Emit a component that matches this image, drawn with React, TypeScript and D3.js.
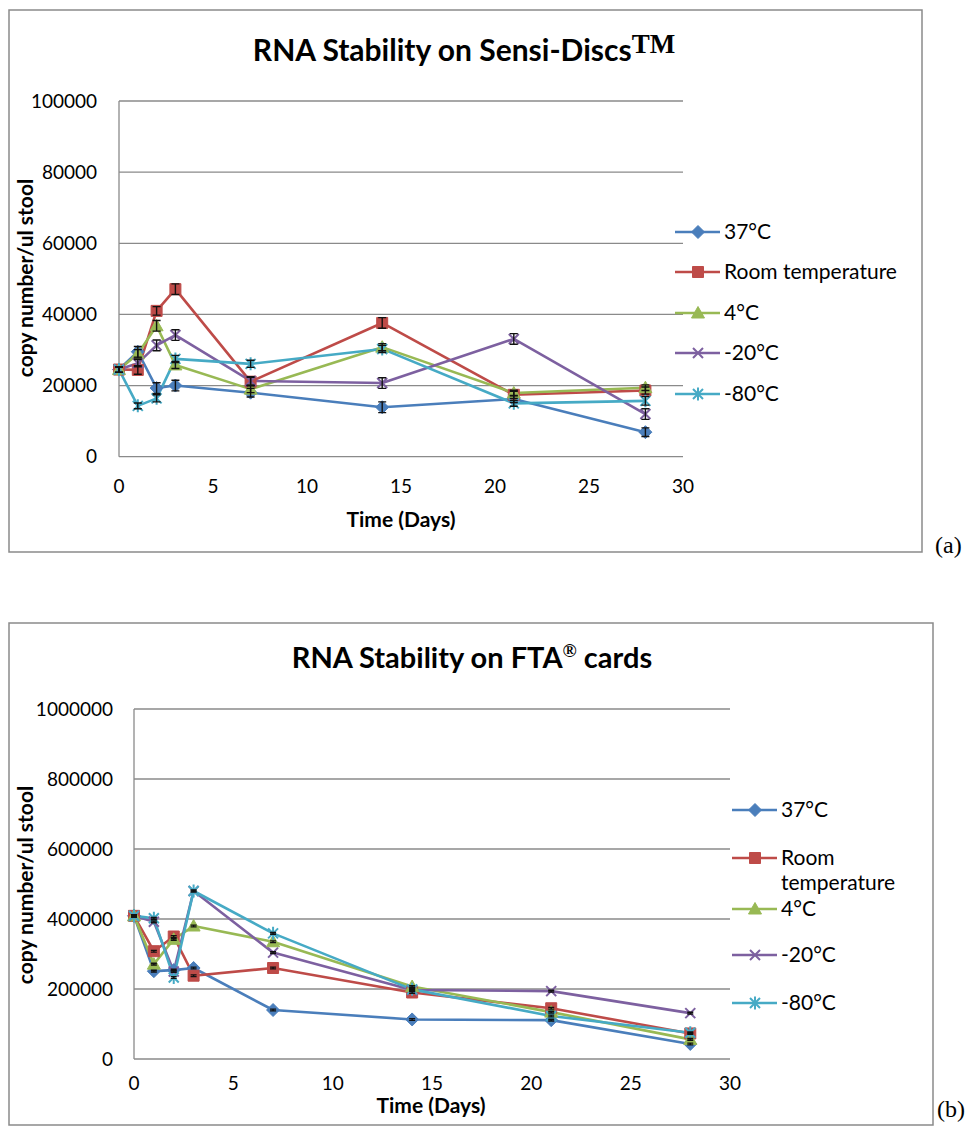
import React from 'react';
import * as d3 from 'd3';

// time points (days)
const days = [0, 1, 2, 3, 7, 14, 21, 28];
const seriesNames = ['37°C', 'Room temperature', '4°C', '-20°C', '-80°C'];
const seriesColors = ['#4a7ebb', '#be4b48', '#98b954', '#7d60a0', '#46aac5'];
const markerKinds = ['diamond', 'square', 'triangle', 'x', 'star'];

// Sensi-Discs (a)
const discs37 = [24500, 29500, 19300, 20000, 18000, 13900, 16200, 6900];
const discsRoom = [24500, 24400, 41000, 47100, 21100, 37600, 17400, 18600];
const discs4 = [24500, 28900, 36800, 25800, 19000, 30800, 17900, 19400];
const discsM20 = [24500, 26300, 31300, 34200, 21300, 20700, 33100, 12000];
const discsM80 = [24500, 14300, 16400, 27500, 26100, 30300, 15000, 15700];
const discsErr37 = [800, 1500, 1500, 1500, 1200, 1500, 1000, 1200];
const discsErrRoom = [800, 1200, 1200, 1500, 1200, 1500, 1000, 1000];
const discsErr4 = [800, 1200, 1500, 1000, 1000, 1000, 800, 800];
const discsErrM20 = [800, 1000, 1500, 1500, 1200, 1500, 1500, 1500];
const discsErrM80 = [800, 800, 1000, 1000, 1000, 1000, 800, 1200];
const discsTicksY = [0, 20000, 40000, 60000, 80000, 100000];

// FTA cards (b)
const fta37 = [409000, 251000, 254000, 260000, 140000, 113000, 111000, 43000];
const ftaRoom = [409000, 308000, 350000, 238000, 260000, 190000, 145000, 73000];
const fta4 = [409000, 271000, 342000, 380000, 335000, 207000, 134000, 56000];
const ftaM20 = [409000, 392000, 250000, 480000, 304000, 197000, 194000, 131000];
const ftaM80 = [409000, 402000, 233000, 480000, 359000, 199000, 123000, 75000];
const ftaErr = [2500, 2500, 2500, 2500, 2500, 2500, 2500, 2500];
const ftaTicksY = [0, 200000, 400000, 600000, 800000, 1000000];

const ticksX = [0, 5, 10, 15, 20, 25, 30];

const FONT = 'Lato, "Open Sans", sans-serif';

function markerPath(kind: string, x: number, y: number): string {
  switch (kind) {
    case 'diamond':
      return `M${x},${y - 6.5}L${x + 6.5},${y}L${x},${y + 6.5}L${x - 6.5},${y}Z`;
    case 'square':
      return `M${x - 5.5},${y - 5.5}h11v11h-11Z`;
    case 'triangle':
      return `M${x},${y - 6.5}L${x + 6.5},${y + 5}L${x - 6.5},${y + 5}Z`;
    case 'x':
      return `M${x - 5},${y - 5}L${x + 5},${y + 5}M${x + 5},${y - 5}L${x - 5},${y + 5}`;
    default:
      return `M${x - 5},${y - 5}L${x + 5},${y + 5}M${x + 5},${y - 5}L${x - 5},${y + 5}M${x},${y - 6.5}L${x},${y + 6.5}`;
  }
}

type ChartProps = {
  frame: [number, number, number, number];
  plot: [number, number, number, number]; // x0, x1, yBottom, yTop
  yMax: number;
  ticksY: number[];
  values: number[][];
  errors: number[][];
  capHalf: number;
  title: React.ReactNode;
  titleX: number;
  titleY: number;
  titleSize: number;
  legendX: number;
  legendYs: number[];
  wrapRoom: boolean;
  tickLabelRight: number;
  xTickBaseline: number;
  xTitle: [number, number];
  yTitle: [number, number];
  tag: string;
  tagPos: [number, number];
};

function Chart(p: ChartProps) {
  const x = d3.scaleLinear().domain([0, 30]).range([p.plot[0], p.plot[1]]);
  const y = d3.scaleLinear().domain([0, p.yMax]).range([p.plot[2], p.plot[3]]);
  const line = d3.line<number>().x((_, i) => x(days[i])).y(v => y(v));
  const [fx, fy, fw, fh] = p.frame;
  return (
    <g>
      <rect x={fx} y={fy} width={fw} height={fh} fill="none" stroke="#8a8a8a" strokeWidth={1.5} />
      <text x={p.tagPos[0]} y={p.tagPos[1]} fontFamily='"Liberation Serif", serif' fontSize={24}>{p.tag}</text>
      <text x={p.titleX} y={p.titleY} textAnchor="middle" fontFamily={FONT} fontWeight="bold" fontSize={p.titleSize}>{p.title}</text>
      {p.ticksY.map(t => (
        <g key={t}>
          <line x1={x(0)} x2={x(30)} y1={y(t)} y2={y(t)} stroke="#8a8a8a" strokeWidth={1.3} />
          <text x={p.tickLabelRight} y={y(t) + 6.5} textAnchor="end" fontFamily={FONT} fontSize={19}>{t}</text>
        </g>
      ))}
      <line x1={x(0)} x2={x(0)} y1={y(0)} y2={y(p.yMax)} stroke="#8a8a8a" strokeWidth={1.3} />
      {ticksX.map(t => (
        <text key={t} x={x(t)} y={p.xTickBaseline} textAnchor="middle" fontFamily={FONT} fontSize={19}>{t}</text>
      ))}
      <text x={p.xTitle[0]} y={p.xTitle[1]} textAnchor="middle" fontFamily={FONT} fontWeight="bold" fontSize={21}>Time (Days)</text>
      <text transform={`translate(${p.yTitle[0]},${p.yTitle[1]}) rotate(-90)`} textAnchor="middle" fontFamily={FONT} fontWeight="bold" fontSize={21}>copy number/ul stool</text>
      {p.values.map((vals, s) => (
        <path key={s} d={line(vals) || ''} fill="none" stroke={seriesColors[s]} strokeWidth={2.6} strokeLinejoin="round" />
      ))}
      {p.values.map((vals, s) => (
        <g key={s}>
          {vals.map((v, i) => {
            const k = markerKinds[s];
            const filled = k === 'diamond' || k === 'square' || k === 'triangle';
            return (
              <path key={i} d={markerPath(k, x(days[i]), y(v))}
                fill={filled ? seriesColors[s] : 'none'} stroke={seriesColors[s]} strokeWidth={filled ? 1 : 2} />
            );
          })}
        </g>
      ))}
      {p.values.map((vals, s) => (
        <g key={s}>
          {vals.map((v, i) => {
            const cx = x(days[i]);
            const e = p.errors[s][i];
            const c = p.capHalf;
            const y1 = y(v + e), y2 = y(v - e);
            return (
              <path key={i} d={`M${cx},${y1}V${y2}M${cx - c},${y1}H${cx + c}M${cx - c},${y2}H${cx + c}`}
                stroke="#111" strokeWidth={1.4} fill="none" />
            );
          })}
        </g>
      ))}
      {seriesNames.map((n, s) => {
        const ly = p.legendYs[s];
        const lx = p.legendX;
        return (
          <g key={n}>
            <line x1={lx} x2={lx + 45} y1={ly} y2={ly} stroke={seriesColors[s]} strokeWidth={2.6} />
            <path d={markerPath(markerKinds[s], lx + 23, ly)}
              fill={s < 3 ? seriesColors[s] : 'none'} stroke={seriesColors[s]} strokeWidth={s < 3 ? 1 : 2} />
            {p.wrapRoom && s === 1 ? (
              <text x={lx + 49} y={ly + 7} fontFamily={FONT} fontSize={21}>
                <tspan x={lx + 49}>Room</tspan>
                <tspan x={lx + 49} dy={25}>temperature</tspan>
              </text>
            ) : (
              <text x={lx + 49} y={ly + 7} fontFamily={FONT} fontSize={21}>{n}</text>
            )}
          </g>
        );
      })}
    </g>
  );
}

export default function App() {
  return (
    <svg width={967} height={1130} style={{ position: 'absolute', left: 0, top: 0, background: '#fff' }}>
      <rect width={967} height={1130} fill="#fff" />
      <Chart
        frame={[9, 10, 913, 542]}
        plot={[119, 683, 456.7, 101]}
        yMax={100000}
        ticksY={discsTicksY}
        values={[discs37, discsRoom, discs4, discsM20, discsM80]}
        errors={[discsErr37, discsErrRoom, discsErr4, discsErrM20, discsErrM80]}
        capHalf={4}
        title={<>RNA Stability on Sensi-Discs<tspan fontFamily='"Liberation Serif", serif' fontSize={27} dy={-8}>TM</tspan></>}
        titleX={464}
        titleY={61}
        titleSize={30}
        legendX={675}
        legendYs={[232, 272, 313, 353, 394]}
        wrapRoom={false}
        tickLabelRight={97}
        xTickBaseline={493}
        xTitle={[401, 527]}
        yTitle={[33, 278]}
        tag="(a)"
        tagPos={[935, 553]}
      />
      <Chart
        frame={[9, 623, 924, 502]}
        plot={[134, 730, 1059, 709]}
        yMax={1000000}
        ticksY={ftaTicksY}
        values={[fta37, ftaRoom, fta4, ftaM20, ftaM80]}
        errors={[ftaErr, ftaErr, ftaErr, ftaErr, ftaErr]}
        capHalf={3}
        title={<>RNA Stability on FTA<tspan fontFamily='"Liberation Serif", serif' fontSize={19} dy={-11}>®</tspan><tspan dy={11}> cards</tspan></>}
        titleX={472}
        titleY={668}
        titleSize={29}
        legendX={732}
        legendYs={[810, 858, 909, 955, 1003]}
        wrapRoom={true}
        tickLabelRight={113}
        xTickBaseline={1090}
        xTitle={[431, 1113]}
        yTitle={[33, 885]}
        tag="(b)"
        tagPos={[937, 1117]}
      />
    </svg>
  );
}
